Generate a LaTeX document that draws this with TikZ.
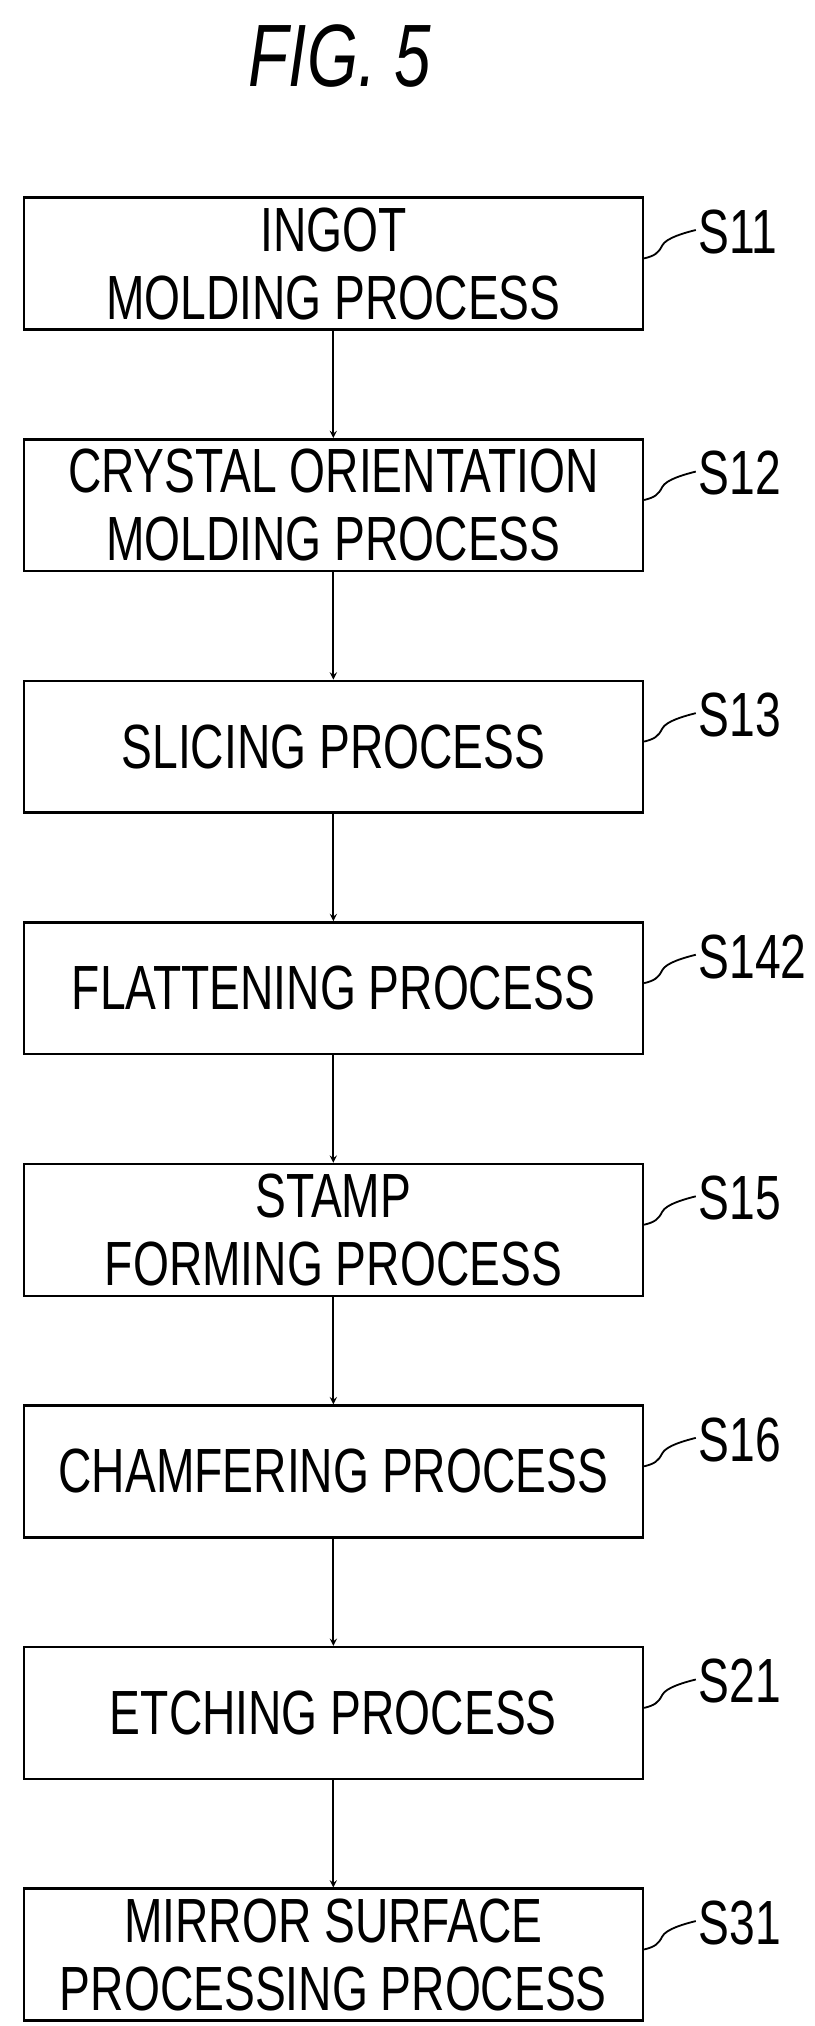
\documentclass[tikz,border=0pt]{standalone}
\usepackage{fontspec}
\setmainfont[FakeStretch=0.74]{Liberation Sans}
\usetikzlibrary{positioning}
\tikzset{ proc/.style = { rectangle
                        , draw
                        , line width   = 2.2pt
                        , minimum width  = 19.16cm
                        , minimum height = 4.08cm
                        , align        = center
                        , font         = \fontsize{55}{60}\selectfont
                        , inner sep    = 0pt
                        },
          tag/.style = { anchor = base west
                       , font   = \fontsize{55}{60}\selectfont
                       , inner sep = 0pt
                       },
          flow/.style = { -stealth, line width = 1.8pt }
        }
\newcommand{\proctag}[2]{%
  \draw[line width=1.6pt] (#1.east) ++(0,-4) .. controls +(8,-2) and +(-3,6) .. ++(14,-10)
        .. controls +(3,-6) and +(-8,2) .. ++(26,-12) coordinate (#1t);
  \node[tag] at (#1t) [xshift=0.08cm, yshift=-0.72cm] {#2};}
\begin{document}
\begin{tikzpicture}[x=0.04cm,y=-0.04cm]
  \useasboundingbox (0,0) rectangle (630,1568);
  \node[font=\fontsize{78}{80}\selectfont\itshape] (fig) at (263,43) {FIG. 5};
  \node[proc] (s11) at (258,204) {INGOT\\MOLDING PROCESS};
  \node[proc, below=3.32cm of s11] (s12) {CRYSTAL ORIENTATION\\MOLDING PROCESS};
  \node[proc, below=3.32cm of s12] (s13) {SLICING PROCESS};
  \node[proc, below=3.32cm of s13] (s142) {FLATTENING PROCESS};
  \node[proc, below=3.32cm of s142] (s15) {STAMP\\FORMING PROCESS};
  \node[proc, below=3.32cm of s15] (s16) {CHAMFERING PROCESS};
  \node[proc, below=3.32cm of s16] (s21) {ETCHING PROCESS};
  \node[proc, below=3.32cm of s21] (s31) {MIRROR SURFACE\\PROCESSING PROCESS};
  \foreach \a/\b in {s11/s12, s12/s13, s13/s142, s142/s15, s15/s16, s16/s21, s21/s31}
    \draw[flow] (\a) -- (\b);
  \proctag{s11}{S11}
  \proctag{s12}{S12}
  \proctag{s13}{S13}
  \proctag{s142}{S142}
  \proctag{s15}{S15}
  \proctag{s16}{S16}
  \proctag{s21}{S21}
  \proctag{s31}{S31}
\end{tikzpicture}
\end{document}
